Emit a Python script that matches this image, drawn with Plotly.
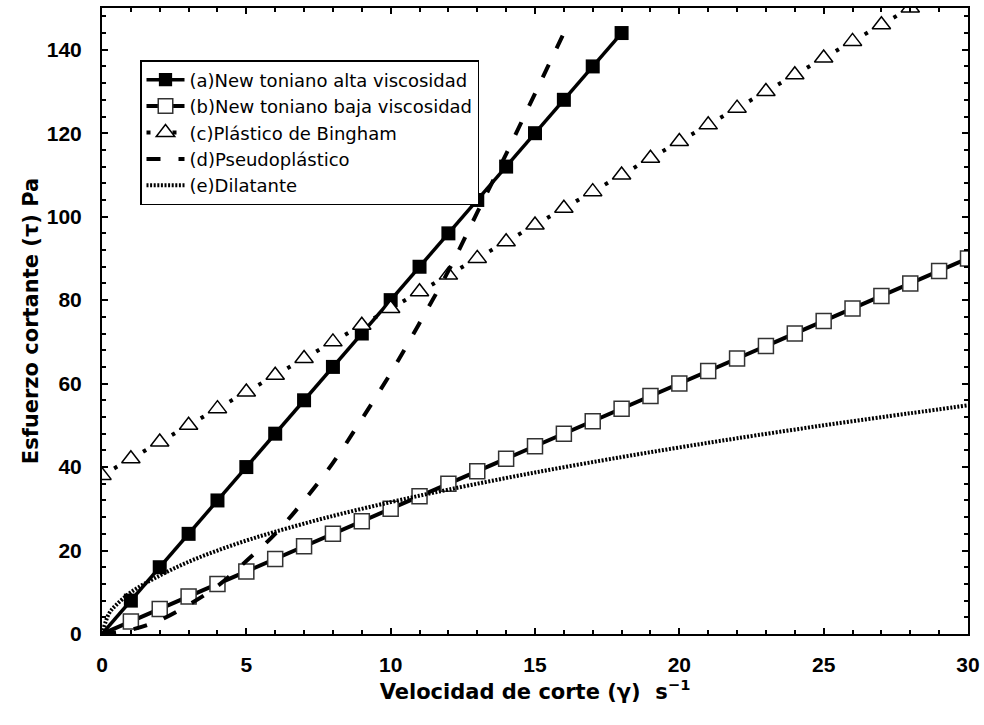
import plotly.graph_objects as go

# Shear rate (s^-1) and shear stress (Pa) for each rheological model
x_a = [0, 1, 2, 3, 4, 5, 6, 7, 8, 9, 10, 11, 12, 13, 14, 15, 16, 17, 18]
tau_a = [0, 8, 16, 24, 32, 40, 48, 56, 64, 72, 80, 88, 96, 104, 112, 120, 128, 136, 144]

x_b = list(range(0, 31))
tau_b = [0, 3, 6, 9, 12, 15, 18, 21, 24, 27, 30, 33, 36, 39, 42, 45, 48, 51, 54, 57,
         60, 63, 66, 69, 72, 75, 78, 81, 84, 87, 90]

x_c = list(range(0, 29))
tau_c = [38, 42, 46, 50, 54, 58, 62, 66, 70, 74, 78, 82, 86, 90, 94, 98, 102, 106,
         110, 114, 118, 122, 126, 130, 134, 138, 142, 146, 150]

x_d = [0, 1, 2, 3, 4, 5, 6, 7, 8, 9, 10, 11, 12, 13, 14, 15, 16]
tau_d = [0, 1, 3.3, 7, 11.5, 17.5, 24, 32, 41, 51.5, 62.5, 74.5, 87, 101, 115, 129.5, 144]

x_e = [0, 0.25, 0.5, 1, 2, 3, 4, 5, 6, 8, 10, 12, 15, 18, 20, 22, 25, 28, 30]
tau_e = [0, 5, 7, 10, 14, 17.3, 20, 22.4, 24.5, 28.3, 31.6, 34.6, 38.7, 42.4, 44.7,
         46.9, 50, 52.9, 54.8]

names = [
    "(a)New toniano alta viscosidad",
    "(b)New toniano baja viscosidad",
    "(c)Plástico de Bingham",
    "(d)Pseudoplástico",
    "(e)Dilatante",
]

# plot area geometry (px) used for the Bingham dot spacing
W, H = 984, 725
ML, MR, MT, MB = 102, 16, 8, 91
pw, ph = W - ML - MR, H - MT - MB
sx, sy = pw / 30.0, ph / 150.0
seg = (sx ** 2 + (4 * sy) ** 2) ** 0.5  # length of one unit step of the Bingham line
dot = 3.6
lead = 0.42 * seg

fig = go.Figure()

fig.add_trace(go.Scatter(
    x=x_a, y=tau_a, name=names[0], mode="lines+markers", legendrank=1,
    line=dict(color="black", width=3.5),
    marker=dict(symbol="square", color="black", opacity=1,
                size=[0] + [14] * (len(x_a) - 1),
                line=dict(color="black", width=0)),
))

fig.add_trace(go.Scatter(
    x=x_b, y=tau_b, name=names[1], mode="lines+markers", legendrank=2,
    line=dict(color="black", width=4),
    marker=dict(symbol="square", color="white", opacity=1,
                size=[0] + [15] * (len(x_b) - 1),
                line=dict(color="#333333", width=1.5)),
))

fig.add_trace(go.Scatter(
    x=x_c, y=tau_c, name=names[2], mode="lines+markers", showlegend=False,
    line=dict(color="black", width=4,
              dash=f"0px,{lead:.3f}px,{dot}px,{seg - lead - dot:.3f}px"),
    marker=dict(symbol="triangle-up", color="white", size=16,
                line=dict(color="black", width=1.5)),
))
# legend entry for (c) with a dot on each side of the triangle
fig.add_trace(go.Scatter(
    x=[None], y=[None], name=names[2], mode="lines+markers", legendrank=3,
    line=dict(color="black", width=4, dash="4px,22px"),
    marker=dict(symbol="triangle-up", color="white", size=16,
                line=dict(color="black", width=1.5)),
))

fig.add_trace(go.Scatter(
    x=x_d, y=tau_d, name=names[3], mode="lines", legendrank=4,
    line=dict(color="black", width=4, dash="14px,18px", shape="spline"),
))

fig.add_trace(go.Scatter(
    x=x_e, y=tau_e, name=names[4], mode="lines", legendrank=5,
    line=dict(color="black", width=4, dash="2px,1.6px", shape="spline"),
))

tick_font = dict(family="Liberation Sans", size=21, color="black", weight="bold")
title_font = dict(family="DejaVu Sans", size=21, color="black", weight="bold")

axis_common = dict(
    showline=True, linecolor="black", linewidth=2, mirror="ticks",
    ticks="inside", ticklen=6, tickwidth=1.5, tickcolor="black",
    showgrid=False, zeroline=False, tickfont=tick_font,
    minor=dict(ticks="inside", ticklen=4, tickwidth=1.5, tickcolor="black", showgrid=False),
)

fig.update_xaxes(
    range=[0, 30], tickvals=[0, 5, 10, 15, 20, 25, 30], minor_dtick=1,
    ticklabelstandoff=11,
    title=dict(text="Velocidad de corte (γ)  s<sup>−1</sup>", standoff=6, font=title_font),
    **axis_common,
)
fig.update_yaxes(
    range=[0, 150], tickvals=[0, 20, 40, 60, 80, 100, 120, 140], minor_dtick=4,
    ticklabelstandoff=14,
    title=dict(text="Esfuerzo cortante (τ) Pa", standoff=2, font=title_font),
    **axis_common,
)

fig.update_layout(
    width=W, height=H,
    margin=dict(l=ML, r=MR, t=MT, b=MB, autoexpand=False),
    paper_bgcolor="white", plot_bgcolor="white",
    showlegend=True,
    legend=dict(
        x=(140 - ML) / pw, y=(H - MB - 60) / ph, xanchor="left", yanchor="top",
        bgcolor="white", bordercolor="black", borderwidth=1.5,
        font=dict(family="DejaVu Sans", size=18, color="black"),
        itemwidth=38, traceorder="normal",
    ),
)

fig.write_html("out.html")
